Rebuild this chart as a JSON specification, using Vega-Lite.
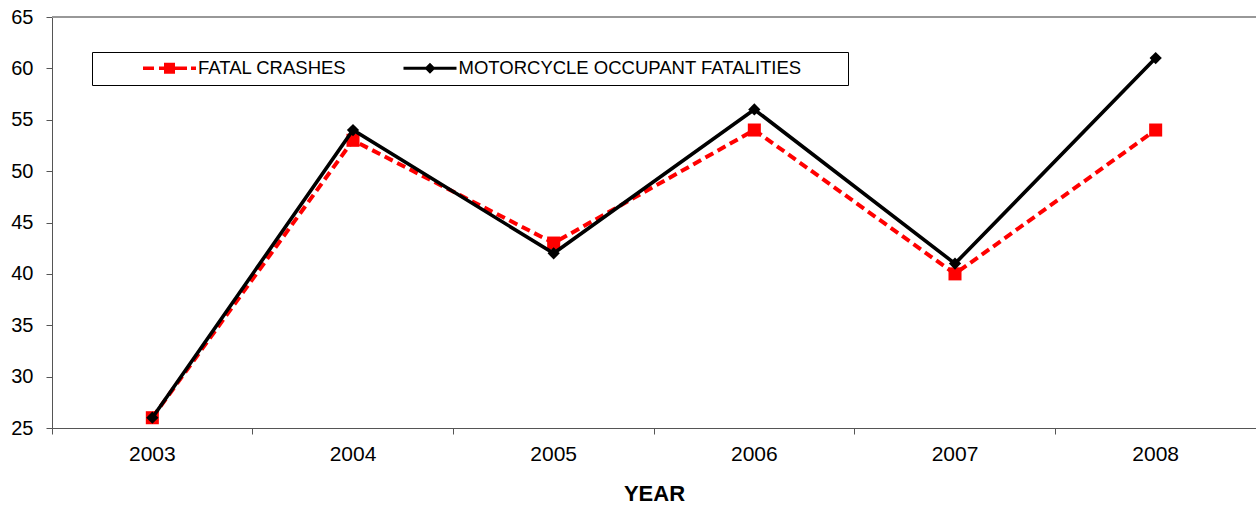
{
  "$schema": "https://vega.github.io/schema/vega-lite/v6.json",
  "width": 1204,
  "height": 411,
  "autosize": {"type": "none"},
  "padding": {"left": 52, "top": 17, "right": 0, "bottom": 77},
  "config": {"view": {"stroke": null}, "font": "Liberation Sans"},
  "data": {
    "values": [
      {"year": "2003", "series": "FATAL CRASHES", "value": 26},
      {"year": "2004", "series": "FATAL CRASHES", "value": 53},
      {"year": "2005", "series": "FATAL CRASHES", "value": 43},
      {"year": "2006", "series": "FATAL CRASHES", "value": 54},
      {"year": "2007", "series": "FATAL CRASHES", "value": 40},
      {"year": "2008", "series": "FATAL CRASHES", "value": 54},
      {"year": "2003", "series": "MOTORCYCLE OCCUPANT FATALITIES", "value": 26},
      {"year": "2004", "series": "MOTORCYCLE OCCUPANT FATALITIES", "value": 54},
      {"year": "2005", "series": "MOTORCYCLE OCCUPANT FATALITIES", "value": 42},
      {"year": "2006", "series": "MOTORCYCLE OCCUPANT FATALITIES", "value": 56},
      {"year": "2007", "series": "MOTORCYCLE OCCUPANT FATALITIES", "value": 41},
      {"year": "2008", "series": "MOTORCYCLE OCCUPANT FATALITIES", "value": 61}
    ]
  },
  "layer": [
    {
      "mark": {"type": "rule", "color": "#999999", "strokeWidth": 1.5},
      "encoding": {"y": {"datum": 65, "type": "quantitative", "scale": {"domain": [25, 65], "nice": false, "zero": false}}}
    },
    {
      "transform": [{"filter": "datum.series == 'FATAL CRASHES'"}],
      "mark": {"type": "line", "color": "#ff0000", "strokeWidth": 4, "strokeDash": [9, 5]},
      "encoding": {
        "x": {
          "field": "year", "type": "ordinal",
          "scale": {"type": "band", "paddingInner": 0, "paddingOuter": 0, "domain": ["2003", "2004", "2005", "2006", "2007", "2008"]},
          "axis": {
            "title": "YEAR", "titleFont": "Liberation Sans", "titleFontSize": 22, "titleFontWeight": "bold", "titleColor": "#000000", "titlePadding": 19,
            "labelFont": "Liberation Sans", "labelFontSize": 21, "labelColor": "#000000", "labelAngle": 0, "labelPadding": 9.5,
            "bandPosition": 0, "tickSize": 6, "tickColor": "#555555", "domainColor": "#555555",
            "grid": false, "labelFlush": false, "labelOverlap": false
          }
        },
        "y": {
          "field": "value", "type": "quantitative",
          "scale": {"domain": [25, 65], "nice": false, "zero": false},
          "axis": {
            "title": null, "values": [25, 30, 35, 40, 45, 50, 55, 60, 65],
            "labelFont": "Liberation Sans", "labelFontSize": 20, "labelColor": "#000000", "labelPadding": 13,
            "tickSize": 6, "tickColor": "#555555", "domainColor": "#555555", "grid": false, "labelFlush": false
          }
        }
      }
    },
    {
      "transform": [{"filter": "datum.series == 'FATAL CRASHES'"}],
      "mark": {"type": "point", "shape": "square", "filled": true, "color": "#ff0000", "size": 170, "opacity": 1},
      "encoding": {
        "x": {"field": "year", "type": "ordinal"},
        "y": {"field": "value", "type": "quantitative"}
      }
    },
    {
      "transform": [{"filter": "datum.series == 'MOTORCYCLE OCCUPANT FATALITIES'"}],
      "mark": {"type": "line", "color": "#000000", "strokeWidth": 3.6},
      "encoding": {
        "x": {"field": "year", "type": "ordinal"},
        "y": {"field": "value", "type": "quantitative"}
      }
    },
    {
      "transform": [{"filter": "datum.series == 'MOTORCYCLE OCCUPANT FATALITIES'"}],
      "mark": {"type": "point", "shape": "diamond", "filled": true, "color": "#000000", "size": 150, "opacity": 1},
      "encoding": {
        "x": {"field": "year", "type": "ordinal"},
        "y": {"field": "value", "type": "quantitative"}
      }
    },
    {
      "mark": {"type": "point", "filled": true, "size": 9409, "opacity": 0, "strokeWidth": 0},
      "encoding": {
        "x": {"field": "year", "type": "ordinal"},
        "y": {"field": "value", "type": "quantitative"},
        "color": {
          "field": "series", "type": "nominal",
          "scale": {"domain": ["FATAL CRASHES", "MOTORCYCLE OCCUPANT FATALITIES"], "range": ["#ff0000", "#000000"]},
          "legend": {
            "orient": "none", "legendX": 40, "legendY": 35, "direction": "horizontal",
            "title": "\u00a0", "titleOrient": "right", "titlePadding": 39.5, "titleFontSize": 18,
            "labelFont": "Liberation Sans", "labelFontSize": 18.5, "labelColor": "#000000", "labelOffset": 2, "labelLimit": 600,
            "symbolSize": 9409, "symbolStrokeWidth": 0, "symbolOpacity": 1, "clipHeight": 18,
            "columnPadding": 12.5, "padding": 7, "strokeColor": "#000000", "fillColor": "#ffffff",
            "encode": {"symbols": {"update": {"opacity": {"value": 1}, "fillOpacity": {"value": 1}}}}
          }
        },
        "shape": {
          "field": "series", "type": "nominal",
          "scale": {
            "domain": ["FATAL CRASHES", "MOTORCYCLE OCCUPANT FATALITIES"],
            "range": [
              "M-1,0L-1,0M-0.093,-0.036H0.134V0.036H-0.093ZM0.237,-0.036H0.814V0.036H0.237ZM0.34,-0.113H0.567V0.113H0.34ZM0.897,-0.036H1V0.036H0.897Z",
              "M-1,0L-1,0M-0.093,-0.031H1V0.031H-0.093ZM0.34,0L0.453,-0.113L0.567,0L0.453,0.113Z"
            ]
          },
          "legend": {
            "orient": "none", "legendX": 40, "legendY": 35, "direction": "horizontal",
            "title": "\u00a0", "titleOrient": "right", "titlePadding": 39.5, "titleFontSize": 18,
            "labelFont": "Liberation Sans", "labelFontSize": 18.5, "labelColor": "#000000", "labelOffset": 2, "labelLimit": 600,
            "symbolSize": 9409, "symbolStrokeWidth": 0, "symbolOpacity": 1, "clipHeight": 18,
            "columnPadding": 12.5, "padding": 7, "strokeColor": "#000000", "fillColor": "#ffffff",
            "encode": {"symbols": {"update": {"opacity": {"value": 1}, "fillOpacity": {"value": 1}}}}
          }
        }
      }
    }
  ]
}
